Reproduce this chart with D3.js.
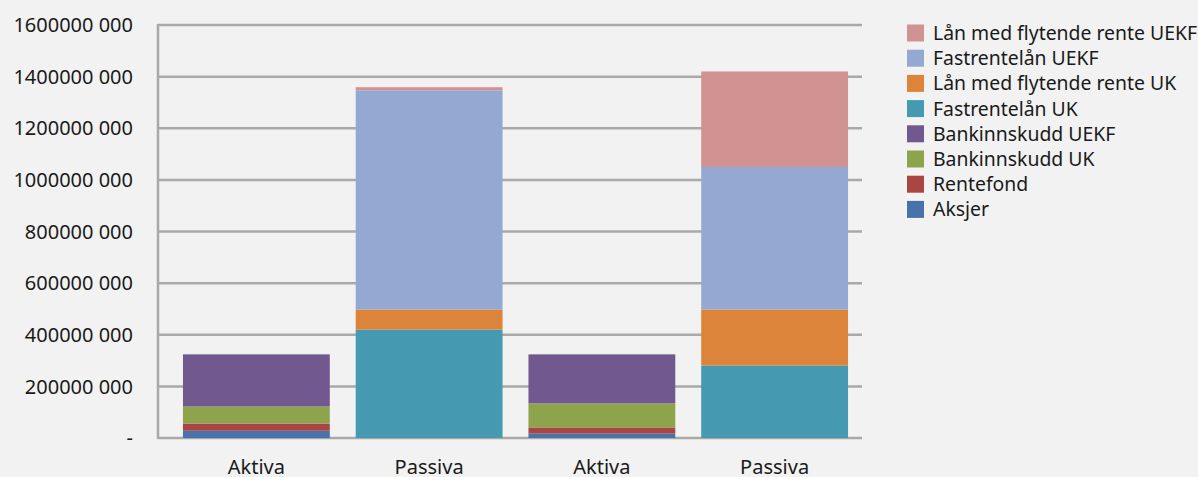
<!DOCTYPE html>
<html>
<head>
<meta charset="utf-8">
<script src="https://cdn.jsdelivr.net/npm/d3@7"></script>
<style>
  html, body { margin: 0; padding: 0; background: #f2f2f2; }
  svg { display: block; font-family: "Noto Sans", "Open Sans", sans-serif; }
</style>
</head>
<body>
<script>
// categories along the x axis
var categories = ["Aktiva", "Passiva", "Aktiva", "Passiva"];

// series, bottom of stack first
var seriesNames = [
  "Aksjer",
  "Rentefond",
  "Bankinnskudd UK",
  "Bankinnskudd UEKF",
  "Fastrentelån UK",
  "Lån med flytende rente UK",
  "Fastrentelån UEKF",
  "Lån med flytende rente UEKF"
];
var seriesColors = ["#4872aa", "#a94543", "#8ea44c", "#71588f", "#4599b0", "#db843a", "#93a9d2", "#d09392"];

// values per series, one per category (kroner)
var aksjer            = [28e6, 0, 17e6, 0];
var rentefond         = [28e6, 0, 24e6, 0];
var bankinnskuddUK    = [66e6, 0, 93e6, 0];
var bankinnskuddUEKF  = [202e6, 0, 190e6, 0];
var fastrenteUK       = [0, 420e6, 0, 281e6];
var flytendeUK        = [0, 78e6, 0, 217e6];
var fastrenteUEKF     = [0, 849e6, 0, 552e6];
var flytendeUEKF      = [0, 12e6, 0, 370e6];

var seriesValues = [aksjer, rentefond, bankinnskuddUK, bankinnskuddUEKF,
                    fastrenteUK, flytendeUK, fastrenteUEKF, flytendeUEKF];

// y axis ticks and their labels
var tickValues = [0, 200e6, 400e6, 600e6, 800e6, 1000e6, 1200e6, 1400e6, 1600e6];
var tickLabels = ["-", "200000 000", "400000 000", "600000 000", "800000 000",
                  "1000000 000", "1200000 000", "1400000 000", "1600000 000"];

var width = 1198, height = 477;
var plotLeft = 158, plotRight = 862;

var svg = d3.select("body").append("svg")
	.attr("width", width)
	.attr("height", height);

svg.append("rect").attr("width", width).attr("height", height).attr("fill", "#f2f2f2");

var y = d3.scaleLinear().domain([0, 1600e6]).range([438, 25]);
var x = d3.scaleBand()
	.domain(d3.range(categories.length))
	.range([170, 861])
	.paddingInner(0.15)
	.paddingOuter(0.075);

// table for the stack
var table = categories.map(function(c, i){
	var row = {idx: i};
	seriesNames.forEach(function(s, k){ row[s] = seriesValues[k][i]; });
	return row;
});
var stacked = d3.stack().keys(seriesNames)(table);

// gridlines
svg.append("g").selectAll("line")
	.data(tickValues)
	.enter().append("line")
	.attr("x1", plotLeft)
	.attr("x2", plotRight)
	.attr("y1", function(d){ return y(d); })
	.attr("y2", function(d){ return y(d); })
	.attr("stroke", "#a9a9a9")
	.attr("stroke-width", 2.5);

// left axis line
svg.append("line")
	.attr("x1", plotLeft).attr("x2", plotLeft)
	.attr("y1", y(1600e6) - 1).attr("y2", y(0) + 1)
	.attr("stroke", "#a9a9a9")
	.attr("stroke-width", 2.5);

// tick labels
svg.append("g").selectAll("text")
	.data(tickValues)
	.enter().append("text")
	.attr("x", 133)
	.attr("y", function(d){ return y(d); })
	.attr("dy", "0.36em")
	.attr("text-anchor", "end")
	.attr("font-size", 20)
	.attr("fill", "#1a1a1a")
	.text(function(d, i){ return tickLabels[i]; });

// bars
var layers = svg.append("g").selectAll("g")
	.data(stacked)
	.enter().append("g")
	.attr("fill", function(d, i){ return seriesColors[i]; });

layers.selectAll("rect")
	.data(function(d){ return d; })
	.enter().append("rect")
	.attr("x", function(d, i){ return x(i); })
	.attr("width", x.bandwidth())
	.attr("y", function(d){ return y(d[1]); })
	.attr("height", function(d){ return y(d[0]) - y(d[1]); });

// category labels
svg.append("g").selectAll("text")
	.data(categories)
	.enter().append("text")
	.attr("x", function(d, i){ return x(i) + x.bandwidth() / 2; })
	.attr("y", 473.5)
	.attr("text-anchor", "middle")
	.attr("font-size", 20)
	.attr("fill", "#1a1a1a")
	.text(function(d){ return d; });

// legend, top entry is the last series
var legendItems = seriesNames.slice().reverse();
var legendColors = seriesColors.slice().reverse();
var legend = svg.append("g").selectAll("g")
	.data(legendItems)
	.enter().append("g")
	.attr("transform", function(d, i){ return "translate(907," + (24.5 + i * 25.2) + ")"; });

legend.append("rect")
	.attr("width", 17)
	.attr("height", 17)
	.attr("fill", function(d, i){ return legendColors[i]; });

legend.append("text")
	.attr("x", 26)
	.attr("y", 8.5)
	.attr("dy", "0.36em")
	.attr("font-size", 19.4)
	.attr("fill", "#1a1a1a")
	.text(function(d){ return d; });
</script>
</body>
</html>
